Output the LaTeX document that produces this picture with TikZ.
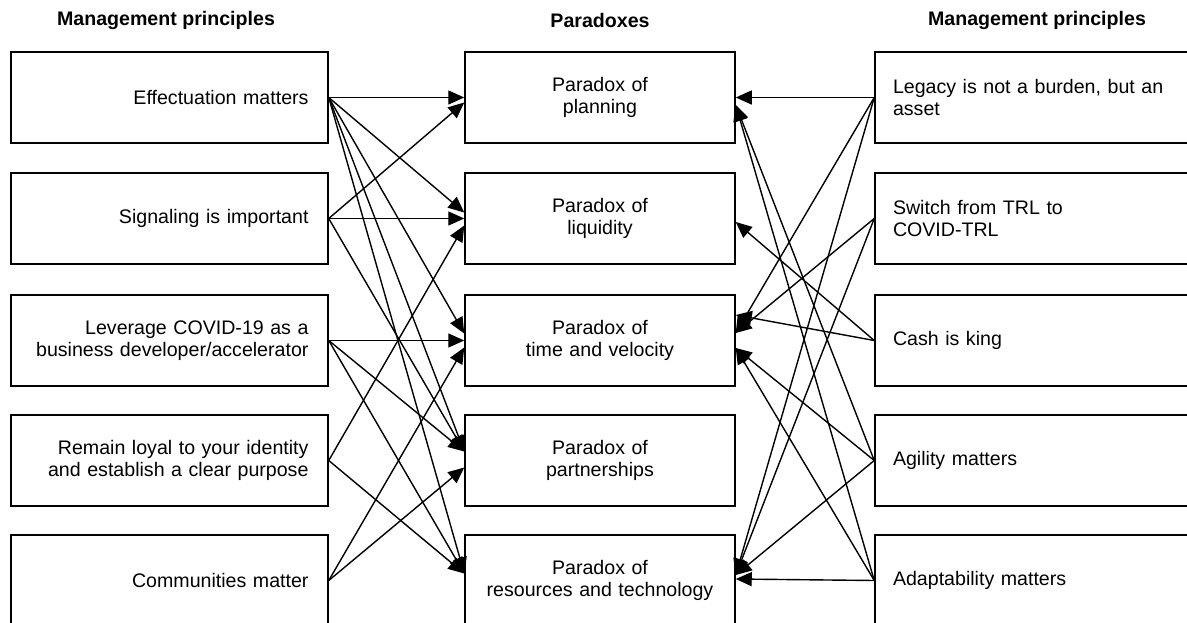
\documentclass[tikz,border=0pt]{standalone}
\usepackage{fontspec}
\setmainfont{Liberation Sans}
\usetikzlibrary{arrows.meta,calc}
\begin{document}
\begin{tikzpicture}[x=1pt,y=-1pt,
  box/.style={draw, line width=1.5pt, minimum height=91pt, inner sep=0pt, font=\fontsize{19.6}{22.5}\selectfont},
  lbox/.style={box, minimum width=317pt, text width=278pt, align=right},
  mbox/.style={box, minimum width=270pt, text width=250pt, align=center},
  rbox/.style={box, minimum width=325pt, text width=289pt, align=left},
  title/.style={font=\bfseries\fontsize{19.6}{21}\selectfont, inner sep=0pt},
  conn/.style={line width=1.4pt, -{Triangle[length=16pt,width=14pt]}}
]
\useasboundingbox (0,0) rectangle (1187,623);
\clip (0,0) rectangle (1187,623);

\node[title] (t1) at (166,20) {Management principles};
\node[title] (t2) at (600,20) {Paradoxes};
\node[title] (t3) at (1037,20) {Management principles};

\node[lbox] (l1) at (169.5,97.5) {Effectuation matters};
\node[lbox] (l2) at (169.5,218.5) {Signaling is important};
\node[lbox] (l3) at (169.5,340.5) {Leverage COVID-19 as a\\business developer/accelerator};
\node[lbox] (l4) at (169.5,460.5) {Remain loyal to your identity\\and establish a clear purpose};
\node[lbox] (l5) at (169.5,580.5) {Communities matter};

\node[mbox] (m1) at (600,97.5) {Paradox of\\planning};
\node[mbox] (m2) at (600,218.5) {Paradox of\\liquidity};
\node[mbox] (m3) at (600,340.5) {Paradox of\\time and velocity};
\node[mbox] (m4) at (600,460.5) {Paradox of\\partnerships};
\node[mbox] (m5) at (600,580.5) {Paradox of\\resources and technology};

\node[rbox] (r1) at (1037.5,97.5) {Legacy is not a burden, but an\\asset};
\node[rbox] (r2) at (1037.5,218.5) {Switch from TRL to\\COVID-TRL};
\node[rbox] (r3) at (1037.5,340.5) {Cash is king};
\node[rbox] (r4) at (1037.5,460.5) {Agility matters};
\node[rbox] (r5) at (1037.5,580.5) {Adaptability matters};

% left connectors
\draw[conn] (l1.east) -- (m1.west);
\draw[conn] (l1.east) -- ($(m2.west)+(0,-6)$);
\draw[conn] (l1.east) -- ($(m3.west)+(0,-7)$);
\draw[conn] (l1.east) -- ($(m4.west)+(0,-9)$);
\draw[conn] (l1.east) -- ($(m5.west)+(0,-7)$);
\draw[conn] (l2.east) -- ($(m1.west)+(0,5)$);
\draw[conn] (l2.east) -- (m2.west);
\draw[conn] (l2.east) -- ($(m4.west)+(0,-9)$);
\draw[conn] (l3.east) -- (m3.west);
\draw[conn] (l3.east) -- ($(m4.west)+(0,-9)$);
\draw[conn] (l3.east) -- ($(m5.west)+(0,-7)$);
\draw[conn] (l4.east) -- ($(m2.west)+(0,7)$);
\draw[conn] (l4.east) -- ($(m5.west)+(0,-7)$);
\draw[conn] (l5.east) -- ($(m3.west)+(0,7)$);
\draw[conn] (l5.east) -- ($(m4.west)+(0,7)$);

% right connectors
\draw[conn] (r1.west) -- (m1.east);
\draw[conn] (r1.west) -- ($(m3.east)+(0,-7.5)$);
\draw[conn] (r1.west) -- ($(m5.east)+(0,-5.5)$);
\draw[conn] (r2.west) -- ($(m3.east)+(0,-7.5)$);
\draw[conn] (r2.west) -- ($(m5.east)+(0,-5.5)$);
\draw[conn] (r3.west) -- ($(m2.east)+(0,3.5)$);
\draw[conn] (r3.west) -- ($(m3.east)+(0,-25.5)$);
\draw[conn] (r4.west) -- ($(m1.east)+(0,7.5)$);
\draw[conn] (r4.west) -- ($(m3.east)+(0,7.5)$);
\draw[conn] (r4.west) -- ($(m5.east)+(0,-5.5)$);
\draw[conn] (r5.west) -- ($(m1.east)+(0,7.5)$);
\draw[conn] (r5.west) -- ($(m3.east)+(0,7.5)$);
\draw[conn] (r5.west) -- ($(m5.east)+(0,-1.5)$);
\end{tikzpicture}
\end{document}
